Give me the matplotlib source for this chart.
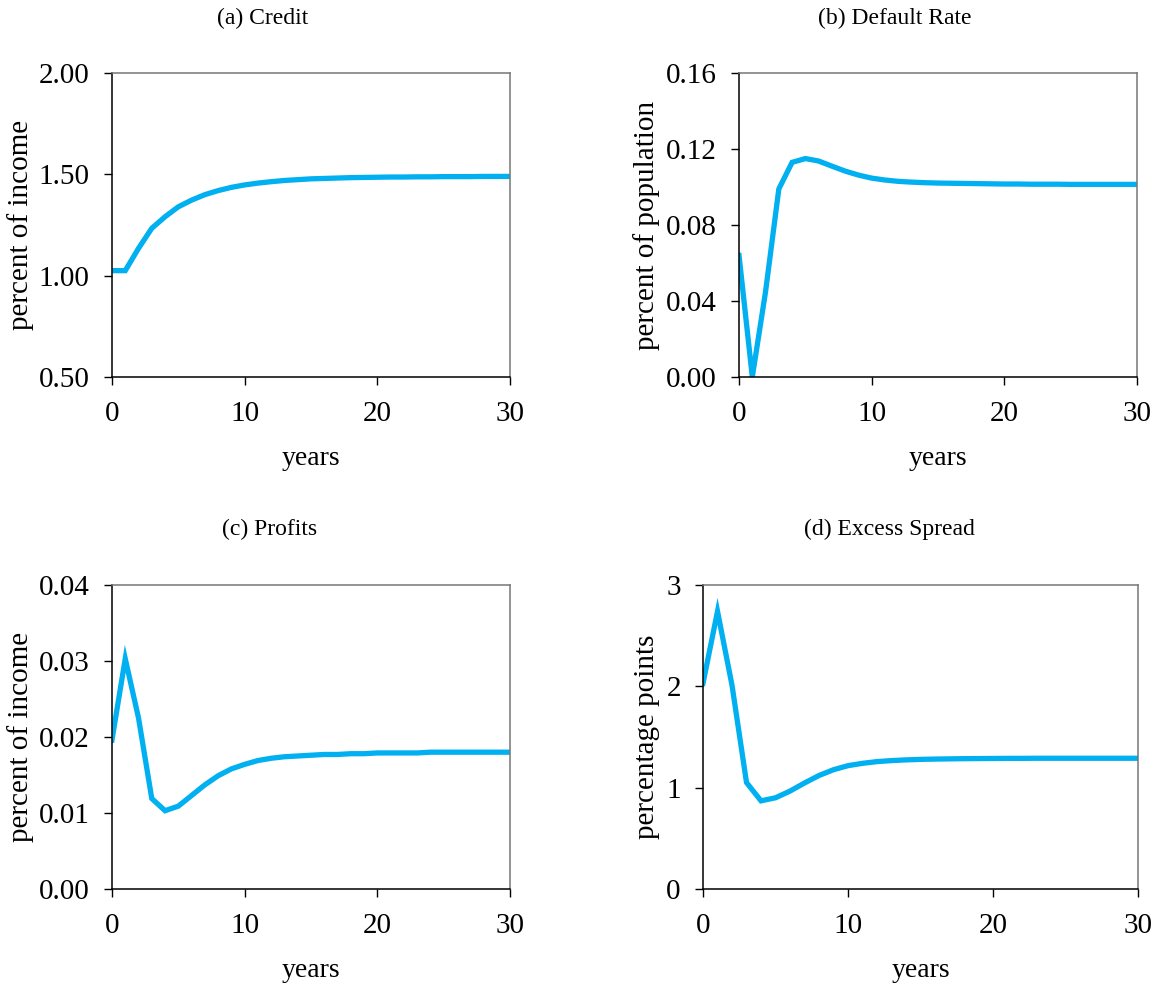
import numpy as np
import matplotlib.pyplot as plt

plt.rcParams['font.family'] = ['Liberation Serif', 'DejaVu Serif']

# ------------------------------------------------------------
# Data (years 0..30)
# ------------------------------------------------------------
years = list(range(31))

credit = [1.025, 1.025, 1.135, 1.234, 1.291, 1.340, 1.373, 1.400, 1.420, 1.436,
          1.448, 1.457, 1.464, 1.470, 1.474, 1.478, 1.480, 1.482, 1.484, 1.485,
          1.486, 1.487, 1.487, 1.488, 1.488, 1.489, 1.489, 1.489, 1.490, 1.490, 1.490]

default_rate = [0.064, 0.000, 0.045, 0.099, 0.113, 0.115, 0.1137, 0.1110, 0.1084, 0.1063,
                0.1047, 0.1037, 0.1030, 0.1026, 0.1023, 0.1021, 0.1020, 0.1019, 0.1018, 0.1017,
                0.1016, 0.1016, 0.1015, 0.1015, 0.1015, 0.1014, 0.1014, 0.1014, 0.1014, 0.1014, 0.1014]

profits = [0.0196, 0.0303, 0.0225, 0.0119, 0.0103, 0.0109, 0.0123, 0.0137, 0.0149, 0.0158,
           0.0164, 0.0169, 0.0172, 0.0174, 0.0175, 0.0176, 0.0177, 0.0177, 0.0178, 0.0178,
           0.0179, 0.0179, 0.0179, 0.0179, 0.0180, 0.0180, 0.0180, 0.0180, 0.0180, 0.0180, 0.0180]

spread = [2.03, 2.74, 2.01, 1.05, 0.87, 0.90, 0.966, 1.046, 1.120, 1.177,
          1.217, 1.240, 1.257, 1.267, 1.274, 1.279, 1.282, 1.284, 1.286, 1.287,
          1.288, 1.289, 1.289, 1.290, 1.290, 1.290, 1.290, 1.290, 1.290, 1.290, 1.290]

panels = [
    # (title, values, ylabel, yticks, tick format, axes rect, title pos, ylabel x in fig)
    ('(a) Credit', credit, 'percent of income', [0.5, 1.0, 1.5, 2.0], '{:.2f}',
     [0.0967, 0.6176, 0.3437, 0.3083], (0.227, 0.981), 0.0294),
    ('(b) Default Rate', default_rate, 'percent of population', [0.0, 0.04, 0.08, 0.12, 0.16], '{:.2f}',
     [0.6382, 0.6176, 0.3437, 0.3083], (0.773, 0.981), 0.570),
    ('(c) Profits', profits, 'percent of income', [0.0, 0.01, 0.02, 0.03, 0.04], '{:.2f}',
     [0.0967, 0.0984, 0.3437, 0.3083], (0.233, 0.4635), 0.0294),
    ('(d) Excess Spread', spread, 'percentage points', [0, 1, 2, 3], '{:.0f}',
     [0.6071, 0.0984, 0.3756, 0.3083], (0.768, 0.4635), 0.570),
]

fig = plt.figure(figsize=(11.58, 9.86), dpi=100)

for title, vals, ylab, yt, fmt, rect, tpos, ylx in panels:
    ax = fig.add_axes(rect)
    ax.plot(years, vals, color='#00B0F0', lw=3.8, solid_joinstyle='miter')
    ax.set_xlim(0, 30)
    ax.set_ylim(yt[0], yt[-1])
    ax.set_xticks([0, 10, 20, 30])
    ax.set_yticks(yt)
    ax.set_yticklabels([fmt.format(v) for v in yt])
    ax.tick_params(direction='out', length=6, width=1, labelsize=21)
    ax.tick_params(axis='x', pad=11)
    ax.tick_params(axis='y', pad=10)
    for s in ['left', 'bottom']:
        ax.spines[s].set_color('black')
        ax.spines[s].set_linewidth(1.1)
    for s in ['top', 'right']:
        ax.spines[s].set_color('#777777')
        ax.spines[s].set_linewidth(1.1)
    ax.set_xlabel('years', fontsize=20, labelpad=14)
    ax.set_ylabel(ylab, fontsize=21)
    ax.yaxis.set_label_coords((ylx - rect[0]) / rect[2], 0.5)
    fig.text(tpos[0], tpos[1], title, ha='center', va='center', fontsize=17)

fig.savefig('out.png', dpi=100)
